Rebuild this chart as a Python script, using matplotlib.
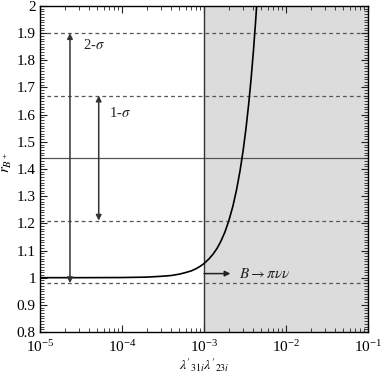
import numpy as np
import matplotlib
matplotlib.use("Agg")
import matplotlib.pyplot as plt
from matplotlib.ticker import MultipleLocator, LogLocator, FuncFormatter

plt.rcParams['font.family'] = ['Liberation Serif', 'DejaVu Serif']
plt.rcParams['mathtext.fontset'] = 'stix'

# curve
curve_x = [1e-5, 3e-5, 1e-4, 2e-4, 3e-4, 4e-4, 5e-4, 6e-4, 7e-4, 8e-4, 9e-4, 1e-3, 1.15e-3,
           1.3e-3, 1.45e-3, 1.6e-3, 1.8e-3, 2e-3, 2.25e-3, 2.5e-3, 2.75e-3, 3e-3,
           3.25e-3, 3.5e-3, 3.75e-3, 4e-3, 4.25e-3, 4.5e-3]
curve_y = [1.0, 1.0, 1.0005, 1.002, 1.005, 1.008, 1.013, 1.019, 1.025, 1.033, 1.042, 1.052, 1.069,
           1.088, 1.109, 1.133, 1.168, 1.208, 1.263, 1.325, 1.393, 1.468,
           1.549, 1.637, 1.731, 1.832, 1.939, 2.05]

central = 1.44
sigma1 = [1.21, 1.67]
sigma2 = [0.98, 1.90]
bound_x = 1e-3
xlim = [1e-5, 1e-1]
ylim = [0.8, 2.0]

fig = plt.figure(figsize=(3.82, 3.75), dpi=100)
ax = fig.add_axes([40/382, 43/375, 328/382, 326/375])
ax.set_xscale('log')
ax.set_xlim(*xlim)
ax.set_ylim(*ylim)

ax.axvspan(bound_x, xlim[1], color='#dcdcdc', zorder=0, lw=0)
ax.axvline(bound_x, color='#333333', lw=1.0, zorder=2)
for yv in sigma1 + sigma2:
    ax.axhline(yv, color='#555555', lw=0.9, ls=(0, (3, 2.5)), zorder=1)
ax.axhline(central, color='#555555', lw=0.9, zorder=1)

ax.plot(curve_x, curve_y, color='black', lw=1.2, zorder=3)

ap = dict(arrowstyle='<|-|>', color='#333333', lw=1.1, mutation_scale=8, shrinkA=0, shrinkB=0)
ax.annotate('', xy=(2.32e-5, sigma2[1]), xytext=(2.32e-5, sigma2[0]), arrowprops=ap)
ax.annotate('', xy=(5.2e-5, sigma1[1]), xytext=(5.2e-5, sigma1[0]), arrowprops=ap)
ax.text(3.3e-5, 1.855, r'2-$\sigma$', fontsize=10.5, color='#222222', va='center')
ax.text(6.9e-5, 1.605, r'1-$\sigma$', fontsize=10.5, color='#222222', va='center')

ax.annotate('', xy=(2.1e-3, 1.015), xytext=(bound_x, 1.015),
            arrowprops=dict(arrowstyle='-|>', color='#222222', lw=1.1, mutation_scale=8,
                            shrinkA=0, shrinkB=0))
ax.text(2.7e-3, 1.015, r'$B\rightarrow\pi\nu\nu$', fontsize=11, va='center', color='#222222')

ax.yaxis.set_major_locator(MultipleLocator(0.1))
ax.yaxis.set_minor_locator(MultipleLocator(0.01))
ax.yaxis.set_major_formatter(FuncFormatter(lambda v, p: '%g' % round(v, 2)))
ax.xaxis.set_major_locator(LogLocator(base=10, numticks=10))
ax.xaxis.set_minor_locator(LogLocator(base=10, subs=np.arange(2, 10), numticks=20))
ax.tick_params(which='both', direction='in', top=True, right=True, color='#222222')
ax.tick_params(axis='y', labelsize=11, pad=3)
ax.tick_params(axis='x', labelsize=11, pad=5)
ax.tick_params(which='major', length=5, width=0.8)
ax.tick_params(which='minor', length=3, width=0.6)
for s in ax.spines.values():
    s.set_linewidth(1.0)

ax.set_xlabel(r"$\lambda'_{31i}\lambda'_{23i}$", fontsize=10)
ax.xaxis.set_label_coords(0.5, -0.074)
ax.set_ylabel(r'$r_{B^+}$', fontsize=11)
ax.yaxis.set_label_coords(-0.078, 0.52)

fig.savefig('out.png', dpi=100)
